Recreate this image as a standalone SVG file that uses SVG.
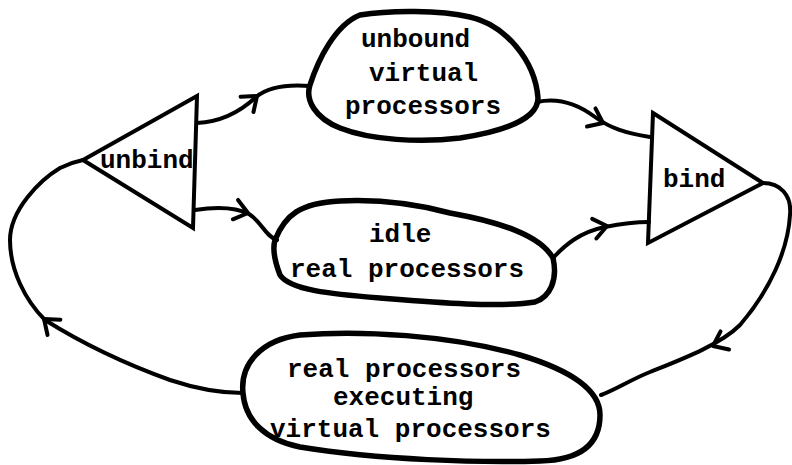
<svg xmlns="http://www.w3.org/2000/svg" xmlns:xlink="http://www.w3.org/1999/xlink" width="792" height="465" viewBox="0 0 792 465">
<style>
.blob{fill:none;stroke:#000;stroke-width:5.5;stroke-linejoin:round}
.tri{fill:none;stroke:#000;stroke-width:4;stroke-linejoin:miter}
.con{fill:none;stroke:#000;stroke-width:4;stroke-linecap:round}
.ah{fill:none;stroke:#000;stroke-width:4;stroke-linecap:round;stroke-linejoin:round}
text{font-family:"Liberation Mono","DejaVu Sans Mono",monospace;font-weight:bold;font-size:26px;fill:#000}
</style>
<defs>
<path id="ah" class="ah" d="M-13,-10 L0,0 L-13,10"/>
</defs>
<rect width="792" height="465" fill="#fff"/>
<g id="connectors">
<path class="con" d="M197,123 C218,122 238,114 256,97 C268,87 285,84 310,86"/>
<path class="con" d="M537,102 C555,98 575,102 595,117 C610,128 625,133 650,137"/>
<path class="con" d="M195,210 C215,207 235,207 249,214 C262,222 265,236 277,240"/>
<path class="con" d="M553,258 C565,245 580,232 605,227 C620,224 635,222 649,222"/>
<path class="con" d="M763,183 C780,183 792,195 790,215 C788,250 770,290 740,325 C720,345 680,360 650,372 C630,380 615,390 601,395"/>
<path class="con" d="M243,393 C225,393 200,390 170,380 C120,362 80,342 45,320 C25,300 10,270 10,240 C10,210 40,180 60,168 C70,163 78,161 83,160"/>
<use href="#ah" transform="translate(257,96) rotate(-40)"/>
<use href="#ah" transform="translate(603,123) rotate(25)"/>
<use href="#ah" transform="translate(248,213) rotate(15)"/>
<use href="#ah" transform="translate(607,226) rotate(-12)"/>
<use href="#ah" transform="translate(713,346) rotate(155)"/>
<use href="#ah" transform="translate(44,319) rotate(-140)"/>
</g>
<g id="unbind">
<path class="tri" d="M83,160 L197,96 L193,228 Z"/>
<text x="100" y="168">unbind</text>
</g>
<g id="bind">
<path class="tri" d="M653,113 L763,183 L648,243 Z"/>
<text x="663" y="187">bind</text>
</g>
<g id="unbound">
<path class="blob" d="M310,85 C318,60 335,25 360,15 C390,10 440,10 470,17 C505,25 535,60 538,98 C538,120 500,132 460,138 C420,143 370,140 340,128 C315,118 305,100 310,85 Z"/>
<text x="361" y="47">unbound</text>
<text x="369" y="81">virtual</text>
<text x="345" y="114">processors</text>
</g>
<g id="idle">
<path class="blob" d="M275,240 C285,215 300,203 340,201 C380,199 420,205 450,213 C500,222 540,235 553,258 C558,280 550,297 535,302 C500,308 430,302 380,298 C330,294 290,290 280,275 C275,262 272,250 275,240 Z"/>
<text x="369" y="242">idle</text>
<text x="290" y="277">real processors</text>
</g>
<g id="executing">
<path class="blob" d="M243,393 C240,365 260,340 300,335 C360,330 450,335 520,355 C570,370 600,390 600,415 C600,445 580,460 540,461 C480,463 380,460 300,447 C265,440 245,420 243,393 Z"/>
<text x="287" y="377">real processors</text>
<text x="333" y="405">executing</text>
<text x="270" y="437">virtual processors</text>
</g>
</svg>
